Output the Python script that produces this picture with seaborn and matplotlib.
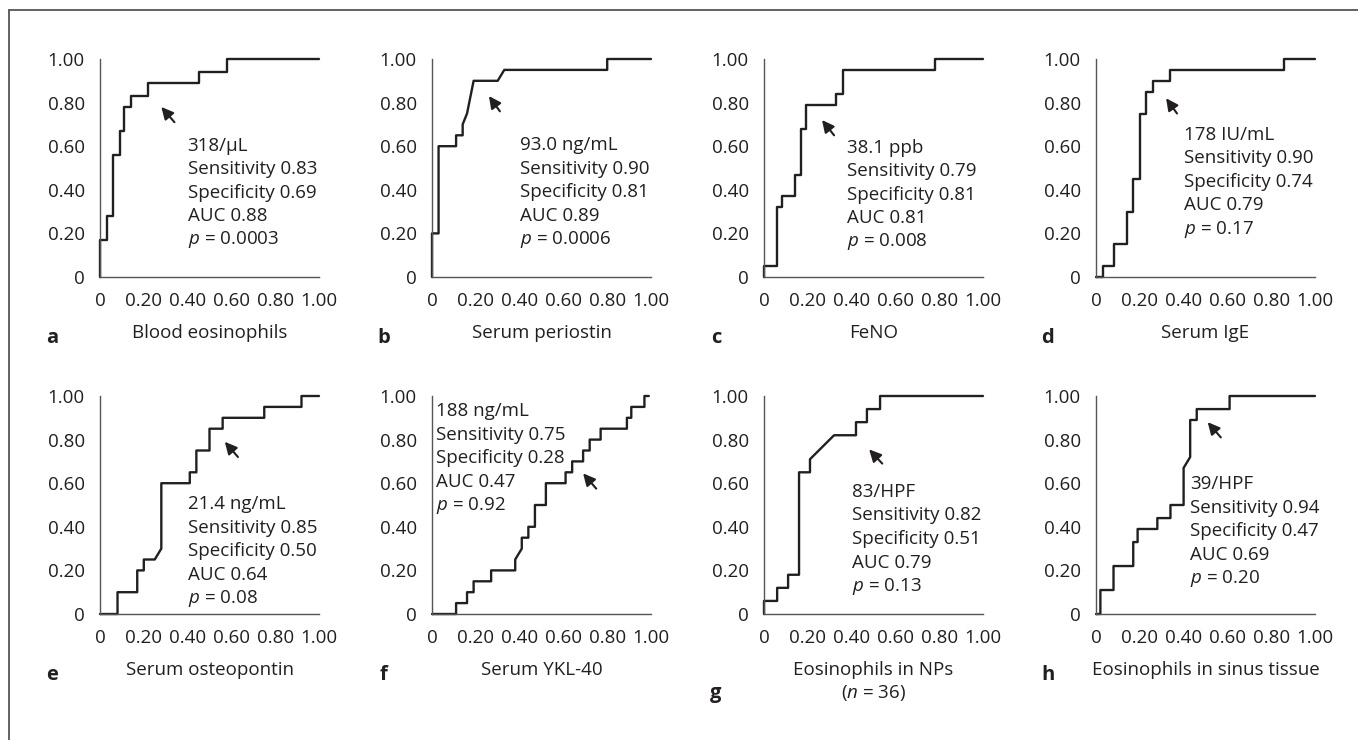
"""
ROC curves for eight type-2 biomarkers (panels a-h)
"""
import matplotlib
matplotlib.use("Agg")
import matplotlib.pyplot as plt
import seaborn as sns

sns.set_style("white")
plt.rcParams["font.family"] = ["Open Sans", "DejaVu Sans"]
plt.rcParams["mathtext.fontset"] = "custom"
plt.rcParams["mathtext.rm"] = "Open Sans"
plt.rcParams["mathtext.it"] = "Open Sans:italic"

# ---------------------------------------------------------
# DATA: 1 - specificity vs sensitivity
# ---------------------------------------------------------
letters = ["a", "b", "c", "d", "e", "f", "g", "h"]
markers = ["Blood eosinophils", "Serum periostin", "FeNO", "Serum IgE",
           "Serum osteopontin", "Serum YKL-40", "Eosinophils in NPs",
           "Eosinophils in sinus tissue"]
cutoffs = ["318/µL", "93.0 ng/mL", "38.1 ppb", "178 IU/mL",
           "21.4 ng/mL", "188 ng/mL", "83/HPF", "39/HPF"]
sensitivity = ["0.83", "0.90", "0.79", "0.90", "0.85", "0.75", "0.82", "0.94"]
specificity = ["0.69", "0.81", "0.81", "0.74", "0.50", "0.28", "0.51", "0.47"]
auc = ["0.88", "0.89", "0.81", "0.79", "0.64", "0.47", "0.79", "0.69"]
p_values = ["0.0003", "0.0006", "0.008", "0.17", "0.08", "0.92", "0.13", "0.20"]

fpr_a = [0, 0, 0.03, 0.03, 0.06, 0.06, 0.09, 0.09, 0.11, 0.11, 0.14, 0.14,
         0.22, 0.22, 0.45, 0.45, 0.58, 0.58, 1.0]
tpr_a = [0, 0.17, 0.17, 0.28, 0.28, 0.56, 0.56, 0.67, 0.67, 0.78, 0.78, 0.83,
         0.83, 0.89, 0.89, 0.94, 0.94, 1.0, 1.0]

fpr_b = [0, 0, 0.03, 0.03, 0.11, 0.11, 0.14, 0.14, 0.16, 0.19, 0.30, 0.33,
         0.80, 0.80, 1.0]
tpr_b = [0, 0.20, 0.20, 0.60, 0.60, 0.65, 0.65, 0.70, 0.75, 0.90, 0.90, 0.95,
         0.95, 1.0, 1.0]

fpr_c = [0, 0, 0.06, 0.06, 0.08, 0.08, 0.14, 0.14, 0.17, 0.17, 0.19, 0.19,
         0.33, 0.33, 0.36, 0.36, 0.78, 0.78, 1.0]
tpr_c = [0, 0.05, 0.05, 0.32, 0.32, 0.37, 0.37, 0.47, 0.47, 0.68, 0.68, 0.79,
         0.79, 0.84, 0.84, 0.95, 0.95, 1.0, 1.0]

fpr_d = [0, 0.03, 0.03, 0.08, 0.08, 0.14, 0.14, 0.17, 0.17, 0.20, 0.20, 0.23,
         0.23, 0.26, 0.26, 0.34, 0.34, 0.86, 0.86, 1.0]
tpr_d = [0, 0, 0.05, 0.05, 0.15, 0.15, 0.30, 0.30, 0.45, 0.45, 0.75, 0.75,
         0.85, 0.85, 0.90, 0.90, 0.95, 0.95, 1.0, 1.0]

fpr_e = [0, 0.08, 0.08, 0.17, 0.17, 0.20, 0.20, 0.25, 0.28, 0.28, 0.41, 0.41,
         0.44, 0.44, 0.50, 0.50, 0.56, 0.56, 0.75, 0.75, 0.92, 0.92, 1.0]
tpr_e = [0, 0, 0.10, 0.10, 0.20, 0.20, 0.25, 0.25, 0.30, 0.60, 0.60, 0.65,
         0.65, 0.75, 0.75, 0.85, 0.85, 0.90, 0.90, 0.95, 0.95, 1.0, 1.0]

fpr_f = [0, 0.11, 0.11, 0.16, 0.16, 0.19, 0.19, 0.27, 0.27, 0.38, 0.38, 0.41,
         0.41, 0.44, 0.44, 0.47, 0.47, 0.52, 0.52, 0.61, 0.61, 0.64, 0.64,
         0.69, 0.69, 0.72, 0.72, 0.77, 0.77, 0.89, 0.89, 0.91, 0.91, 0.97,
         0.97, 0.99]
tpr_f = [0, 0, 0.05, 0.05, 0.10, 0.10, 0.15, 0.15, 0.20, 0.20, 0.25, 0.30,
         0.35, 0.35, 0.40, 0.40, 0.50, 0.50, 0.60, 0.60, 0.65, 0.65, 0.70,
         0.70, 0.75, 0.75, 0.80, 0.80, 0.85, 0.85, 0.90, 0.90, 0.95, 0.95,
         1.0, 1.0]

fpr_g = [0, 0, 0.06, 0.06, 0.11, 0.11, 0.16, 0.16, 0.21, 0.21, 0.32, 0.42,
         0.42, 0.47, 0.47, 0.53, 0.53, 1.0]
tpr_g = [0, 0.06, 0.06, 0.12, 0.12, 0.18, 0.18, 0.65, 0.65, 0.71, 0.82, 0.82,
         0.88, 0.88, 0.94, 0.94, 1.0, 1.0]

fpr_h = [0, 0.02, 0.02, 0.08, 0.08, 0.17, 0.17, 0.19, 0.19, 0.28, 0.28, 0.34,
         0.34, 0.40, 0.40, 0.43, 0.43, 0.46, 0.46, 0.61, 0.61, 1.0]
tpr_h = [0, 0, 0.11, 0.11, 0.22, 0.22, 0.33, 0.33, 0.39, 0.39, 0.44, 0.44,
         0.50, 0.50, 0.67, 0.72, 0.89, 0.89, 0.94, 0.94, 1.0, 1.0]

fprs = [fpr_a, fpr_b, fpr_c, fpr_d, fpr_e, fpr_f, fpr_g, fpr_h]
tprs = [tpr_a, tpr_b, tpr_c, tpr_d, tpr_e, tpr_f, tpr_g, tpr_h]

ticks = [0, 0.2, 0.4, 0.6, 0.8, 1.0]
tick_labels = ["0", "0.20", "0.40", "0.60", "0.80", "1.00"]

# ---------------------------------------------------------
# LAYOUT (pixels / data units)
# ---------------------------------------------------------
W, H = 1358, 740
col_left = [100, 432, 764, 1096]
row_top = [59, 396]
ax_w, ax_h = 219, 218

# arrow (tip, tail) and first text line (x, y) in data units
arrows = [((0.28, 0.78), (0.34, 0.71)), ((0.26, 0.83), (0.31, 0.76)),
          ((0.265, 0.72), (0.32, 0.65)), ((0.32, 0.82), (0.37, 0.75)),
          ((0.57, 0.79), (0.63, 0.72)), ((0.69, 0.645), (0.75, 0.575)),
          ((0.48, 0.755), (0.54, 0.69)), ((0.51, 0.88), (0.57, 0.81))]
text_xy = [(0.40, 0.603), (0.40, 0.605), (0.38, 0.594), (0.40, 0.652),
           (0.40, 0.503), (0.02, 0.931), (0.40, 0.56), (0.43, 0.596)]
line_step = 0.108

INK = "#231f20"
AXIS = "#555555"
FS = 13.5

fig = plt.figure(figsize=(W / 100, H / 100), dpi=100)


def fx(px):
    return px / W


def fy(py):
    return 1 - py / H


for i in range(8):
    r, c = divmod(i, 4)
    left, top = col_left[c], row_top[r]
    ax = fig.add_axes([fx(left), fy(top + ax_h), ax_w / W, ax_h / H])

    sns.lineplot(x=fprs[i], y=tprs[i], sort=False, estimator=None, ax=ax,
                 color=INK, linewidth=1.7, clip_on=False)

    ax.set_xlim(0, 1)
    ax.set_ylim(0, 1)
    ax.set_xticks(ticks)
    ax.set_xticklabels(tick_labels)
    ax.set_yticks(ticks)
    ax.set_yticklabels(tick_labels)
    ax.tick_params(direction="out", length=6, width=1, color=AXIS,
                   labelsize=FS, labelcolor=INK)
    ax.tick_params(axis="x", pad=5)
    ax.tick_params(axis="y", pad=5)
    for s in ["top", "right"]:
        ax.spines[s].set_visible(False)
    for s in ["left", "bottom"]:
        ax.spines[s].set_color(AXIS)
        ax.spines[s].set_linewidth(1)
    ax.set_xlabel("")
    ax.set_ylabel("")

    tip, tail = arrows[i]
    ax.annotate("", xy=tip, xytext=tail,
                arrowprops=dict(arrowstyle="-|>", color=INK, lw=1.5,
                                mutation_scale=18, shrinkA=0, shrinkB=0))

    tx, ty = text_xy[i]
    lines = [cutoffs[i], f"Sensitivity {sensitivity[i]}",
             f"Specificity {specificity[i]}", f"AUC {auc[i]}",
             f"$p$ = {p_values[i]}"]
    for k, line in enumerate(lines):
        ax.text(tx, ty - k * line_step, line, fontsize=FS, color=INK,
                ha="left", va="center")

    # marker name and panel letter under each axis
    base = top + ax_h + 61
    fig.text(fx(left + ax_w / 2), fy(base), markers[i], fontsize=FS,
             color=INK, ha="center", va="baseline")
    letter_base = base + 5
    if letters[i] == "g":
        fig.text(fx(left + ax_w / 2), fy(base + 23), "($n$ = 36)",
                 fontsize=FS, color=INK, ha="center", va="baseline")
        letter_base = base + 23
    fig.text(fx(left - 48), fy(letter_base), letters[i], fontsize=FS + 1,
             fontweight="bold", color=INK, ha="center", va="baseline")

# frame lines along top and left edge
fig.add_artist(plt.Line2D([fx(9), 1], [fy(10), fy(10)], color="#555555", lw=1.3))
fig.add_artist(plt.Line2D([fx(9), fx(9)], [0, fy(10)], color="#555555", lw=1.3))

fig.savefig("out.png", dpi=100)
